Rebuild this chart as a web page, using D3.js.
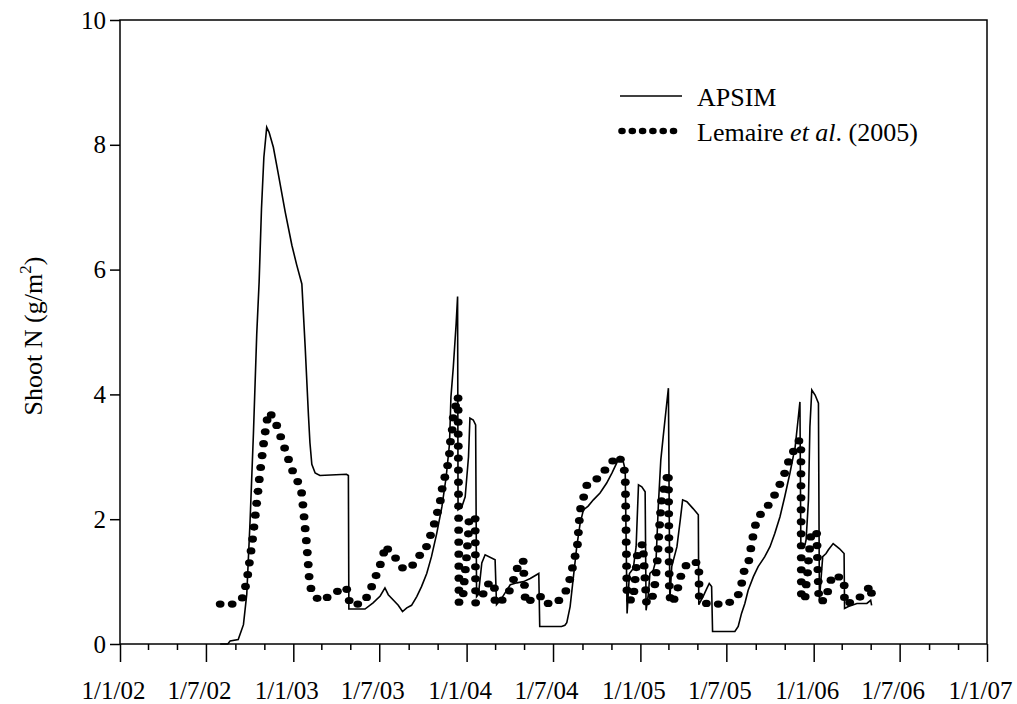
<!DOCTYPE html>
<html>
<head>
<meta charset="utf-8">
<script src="https://cdn.jsdelivr.net/npm/d3@7"></script>
<style>
  body { margin: 0; background: #fff; }
  svg { display: block; }
  text { font-family: "Liberation Serif", "Times New Roman", serif; fill: #000; }
</style>
</head>
<body>
<svg id="chart" width="1017" height="704"></svg>
<script>
// Simulated shoot N (APSIM)
const apsimDates = [
  "2002-07-31","2002-08-16","2002-08-21","2002-09-07","2002-09-18","2002-09-25","2002-10-02","2002-10-09",
  "2002-10-16","2002-10-21","2002-10-26","2002-10-31","2002-11-02","2002-11-06","2002-11-11","2002-11-20",
  "2002-11-30","2002-12-15","2002-12-29","2003-01-08","2003-01-19","2003-01-26","2003-02-02","2003-02-05",
  "2003-02-09","2003-02-16","2003-02-26","2003-04-23","2003-04-27","2003-04-28","2003-06-01","2003-06-18",
  "2003-07-03","2003-07-13","2003-07-20","2003-07-31","2003-08-10","2003-08-19","2003-08-28","2003-09-07",
  "2003-09-18","2003-09-28","2003-10-09","2003-10-19","2003-10-30","2003-11-10","2003-11-19","2003-11-26",
  "2003-11-29","2003-12-04","2003-12-10","2003-12-13","2003-12-14","2003-12-22","2003-12-29","2004-01-05",
  "2004-01-08","2004-01-15","2004-01-20","2004-01-22","2004-01-26","2004-02-02","2004-02-09","2004-03-01",
  "2004-03-04","2004-03-12","2004-03-22","2004-04-02","2004-04-16","2004-04-30","2004-05-14","2004-06-01",
  "2004-06-03","2004-07-19","2004-07-26","2004-07-30","2004-08-06","2004-08-13","2004-08-20","2004-08-27",
  "2004-09-03","2004-09-13","2004-09-24","2004-10-08","2004-10-22","2004-11-02","2004-11-12","2004-11-19",
  "2004-11-26","2004-11-30","2004-12-04","2004-12-09","2004-12-17","2004-12-23","2004-12-28","2005-01-04",
  "2005-01-11","2005-01-13","2005-01-18","2005-01-21","2005-01-28","2005-02-03","2005-02-08","2005-02-13",
  "2005-02-18","2005-02-24","2005-03-01","2005-03-04","2005-03-08","2005-03-19","2005-03-26","2005-03-31",
  "2005-04-09","2005-04-22","2005-05-03","2005-05-04","2005-05-13","2005-05-21","2005-05-26","2005-05-31",
  "2005-06-02","2005-07-19","2005-07-26","2005-08-02","2005-08-09","2005-08-16","2005-08-27","2005-09-06",
  "2005-09-20","2005-10-01","2005-10-11","2005-10-22","2005-11-01","2005-11-12","2005-11-23","2005-11-29",
  "2005-12-03","2005-12-05","2005-12-14","2005-12-16","2005-12-21","2005-12-24","2005-12-28","2006-01-04",
  "2006-01-11","2006-01-13","2006-01-20","2006-01-27","2006-02-01","2006-02-11","2006-02-24","2006-03-06",
  "2006-03-07","2006-03-15","2006-04-02","2006-04-23","2006-05-01","2006-05-03"
];
const apsimShootN = [
  0, 0, 0.05, 0.07, 0.31, 0.8, 1.98, 3.37,
  4.97, 5.8, 6.98, 7.8, 7.96, 8.28, 8.2, 7.96,
  7.55, 6.92, 6.39, 6.08, 5.77, 4.76, 3.65, 3.23,
  2.88, 2.74, 2.70, 2.72, 2.70, 0.56, 0.56, 0.66,
  0.77, 0.9, 0.79, 0.7, 0.62, 0.52, 0.58, 0.62,
  0.76, 0.92, 1.13, 1.4, 1.77, 2.2, 2.68, 3.21,
  3.96, 4.44, 5.14, 5.57, 2.15, 2.2, 2.36, 3.0,
  3.62, 3.59, 3.51, 0.76, 0.8, 1.3, 1.43, 1.35,
  0.63, 0.7, 0.82, 0.95, 0.98, 1.0, 1.05, 1.13,
  0.28, 0.28, 0.3, 0.34, 0.6, 1.08, 1.56, 1.93,
  2.15, 2.21, 2.31, 2.42, 2.58, 2.74, 2.9, 3.0,
  2.92, 2.79, 0.49, 1.13, 1.21, 1.56, 2.55, 2.52,
  2.44, 0.54, 0.81, 1.13, 1.18, 1.35, 2.25, 2.95,
  3.32, 3.75, 4.1, 0.7, 1.24, 1.56, 1.99, 2.31,
  2.28, 2.17, 2.07, 0.63, 0.76, 0.89, 0.97, 0.92,
  0.2, 0.2, 0.28, 0.49, 0.65, 0.86, 1.08, 1.24,
  1.4, 1.56, 1.77, 2.04, 2.36, 2.74, 3.16, 3.59,
  3.88, 1.56, 1.6, 1.67, 2.31, 3.48, 4.07, 3.99,
  3.86, 0.7, 1.4, 1.45, 1.51, 1.61, 1.53, 1.45,
  0.57, 0.6, 0.65, 0.65, 0.7, 0.62
];

// Shoot N after Lemaire et al. (2005)
const lemaireDates = [
  "2002-07-31","2002-08-28","2002-09-16","2002-09-25","2002-10-06","2002-10-15","2002-10-23","2002-11-01",
  "2002-11-07","2002-11-11","2002-11-23","2002-12-11","2002-12-29","2003-01-10","2003-01-19","2003-01-24",
  "2003-01-29","2003-02-02","2003-02-04","2003-02-09","2003-02-25","2003-03-23","2003-04-18","2003-04-28",
  "2003-04-29","2003-05-24","2003-06-10","2003-06-18","2003-06-30","2003-07-07","2003-07-15","2003-07-20",
  "2003-07-31","2003-08-10","2003-08-21","2003-09-07","2003-09-25","2003-10-04","2003-10-14","2003-10-23",
  "2003-10-30","2003-11-06","2003-11-10","2003-11-16","2003-11-22","2003-11-26","2003-11-28","2003-12-02",
  "2003-12-04","2003-12-10","2003-12-14","2003-12-16","2003-12-25","2003-12-27","2004-01-01","2004-01-05",
  "2004-01-06","2004-01-19","2004-01-20","2004-02-03","2004-02-11","2004-02-28","2004-03-01","2004-03-08",
  "2004-03-27","2004-04-07","2004-04-12","2004-04-29","2004-05-04","2004-05-28","2004-06-04","2004-06-11",
  "2004-07-07","2004-07-25","2004-08-04","2004-08-15","2004-08-21","2004-08-23","2004-08-27","2004-09-10",
  "2004-10-06","2004-10-25","2004-11-14","2004-11-25","2004-11-30","2004-12-04","2004-12-16","2004-12-19",
  "2004-12-24","2004-12-26","2005-01-06","2005-01-14","2005-01-28","2005-02-01","2005-02-06","2005-02-09",
  "2005-02-13","2005-02-15","2005-02-22","2005-03-01","2005-03-03","2005-03-08","2005-03-18","2005-03-24",
  "2005-03-31","2005-04-14","2005-05-04","2005-05-05","2005-05-23","2005-07-03","2005-07-25","2005-08-02",
  "2005-08-07","2005-08-16","2005-08-20","2005-08-25","2005-08-29","2005-09-08","2005-09-29","2005-10-14",
  "2005-10-26","2005-11-06","2005-11-12","2005-11-23","2005-11-30","2005-12-05","2005-12-06","2005-12-14",
  "2005-12-16","2005-12-19","2005-12-21","2005-12-26","2006-01-07","2006-01-12","2006-01-28","2006-02-01",
  "2006-02-11","2006-03-06","2006-03-07","2006-04-02","2006-04-21","2006-05-02","2006-05-03"
];
const lemaireShootN = [
  0.64, 0.64, 0.74, 1.0, 1.6, 2.2, 2.75, 3.31,
  3.6, 3.72, 3.59, 3.2, 2.8, 2.61, 2.41, 2.01,
  1.61, 1.22, 1.0, 0.83, 0.69, 0.78, 0.92, 0.84,
  0.64, 0.64, 0.8, 0.99, 1.19, 1.37, 1.58, 1.5,
  1.43, 1.31, 1.2, 1.24, 1.43, 1.46, 1.68, 1.87,
  2.07, 2.26, 2.47, 2.67, 2.86, 3.06, 3.25, 3.45,
  3.65, 3.85, 3.97, 0.65, 0.81, 1.0, 1.4, 1.79,
  1.99, 2.05, 0.66, 0.76, 0.95, 0.99, 0.65, 0.64,
  0.79, 0.96, 1.16, 1.35, 0.65, 0.77, 0.77, 0.65,
  0.65, 0.79, 0.99, 1.36, 1.55, 1.75, 2.14, 2.54,
  2.67, 2.85, 3.02, 2.91, 2.71, 0.73, 0.69, 0.88,
  1.28, 1.47, 1.61, 0.64, 0.78, 0.98, 1.37, 1.76,
  2.16, 2.35, 2.55, 2.76, 0.79, 0.64, 0.8, 1.0,
  1.19, 1.32, 1.3, 0.7, 0.64, 0.64, 0.76, 0.96,
  1.16, 1.27, 1.46, 1.67, 1.86, 2.05, 2.24, 2.43,
  2.63, 2.83, 3.02, 3.12, 3.25, 3.27, 0.7, 0.75,
  0.94, 1.13, 1.33, 1.73, 1.82, 0.68, 0.71, 0.92,
  1.11, 1.04, 0.64, 0.7, 0.85, 0.94, 0.74
];

const yTicks = [0, 2, 4, 6, 8, 10];
const xDomain = ["2002-01-01", "2007-01-01"];
const seriesNames = ["APSIM", "Lemaire"];

(function draw() {
  const parse = d3.timeParse("%Y-%m-%d");
  const apsim = apsimDates.map((d, i) => ({ date: parse(d), v: apsimShootN[i] }));
  const lemaire = lemaireDates.map((d, i) => ({ date: parse(d), v: lemaireShootN[i] }));

  const svg = d3.select("#chart");
  const m = { left: 120, right: 987, top: 20, bottom: 644 };
  const serif = "'Liberation Serif', 'Times New Roman', serif";
  const dotRx = 4.4, dotRy = 3.6;

  const x = d3.scaleTime().domain(xDomain.map(parse)).range([m.left, m.right]);
  const y = d3.scaleLinear().domain([0, 10]).range([m.bottom, m.top]);

  // Frame
  svg.append("rect")
    .attr("x", m.left).attr("y", m.top)
    .attr("width", m.right - m.left).attr("height", m.bottom - m.top)
    .attr("fill", "none").attr("stroke", "#000").attr("stroke-width", 1.5);

  // X axis: labelled ticks every six months, short ticks every two months
  const fmt = d3.timeFormat("%-d/%-m/%y");
  const majorTicks = d3.timeMonth.every(6).range(x.domain()[0], d3.timeDay.offset(x.domain()[1], 1));
  const minorTicks = d3.timeMonth.every(2).range(x.domain()[0], x.domain()[1])
    .filter(d => d.getMonth() % 6 !== 0);

  const xMinor = svg.append("g").attr("transform", `translate(0,${m.bottom})`)
    .call(d3.axisBottom(x).tickValues(minorTicks).tickSize(6).tickFormat(""));
  xMinor.select(".domain").remove();
  xMinor.selectAll("line").attr("stroke-width", 1.5);

  const xMajor = svg.append("g").attr("transform", `translate(0,${m.bottom})`)
    .call(d3.axisBottom(x).tickValues(majorTicks).tickSize(18).tickPadding(19).tickFormat(fmt));
  xMajor.select(".domain").remove();
  xMajor.selectAll("line").attr("stroke-width", 1.5);
  xMajor.selectAll("text")
    .attr("x", -7)
    .attr("font-family", serif).attr("font-size", 25).attr("fill", "#000");

  // Y axis
  const yAxis = svg.append("g").attr("transform", `translate(${m.left},0)`)
    .call(d3.axisLeft(y).tickValues(yTicks).tickSize(10).tickPadding(4).tickFormat(d3.format("d")));
  yAxis.select(".domain").remove();
  yAxis.selectAll("line").attr("stroke-width", 1.5);
  yAxis.selectAll("text")
    .attr("font-family", serif).attr("font-size", 25).attr("fill", "#000");

  // Y axis title
  const yTitle = svg.append("text")
    .attr("transform", "translate(42,336) rotate(-90)")
    .attr("text-anchor", "middle")
    .attr("font-size", 26);
  yTitle.append("tspan").text("Shoot N (g/m");
  yTitle.append("tspan").attr("font-size", 17).attr("dy", -11).text("2");
  yTitle.append("tspan").attr("dy", 11).text(")");

  const line = d3.line().x(d => x(d.date)).y(d => y(d.v));

  // Lemaire et al. (2005): dots placed at even spacing along the trace
  const trace = svg.append("path")
    .datum(lemaire)
    .attr("d", line)
    .attr("fill", "none")
    .attr("stroke", "none");
  const node = trace.node();
  const total = node.getTotalLength();
  const step = 12;
  const dots = d3.range(0, total + 0.01, step).map(s => node.getPointAtLength(s));
  svg.append("g").selectAll("ellipse")
    .data(dots)
    .join("ellipse")
    .attr("cx", p => p.x).attr("cy", p => p.y)
    .attr("rx", dotRx).attr("ry", dotRy)
    .attr("fill", "#000");

  // APSIM: solid line
  svg.append("path")
    .datum(apsim)
    .attr("d", line)
    .attr("fill", "none")
    .attr("stroke", "#000")
    .attr("stroke-width", 1.6);

  // Legend
  const legend = svg.append("g");
  legend.append("line")
    .attr("x1", 620).attr("x2", 682).attr("y1", 96).attr("y2", 96)
    .attr("stroke", "#000").attr("stroke-width", 1.6);
  legend.append("text").attr("x", 697).attr("y", 106).attr("font-size", 26).text(seriesNames[0]);

  legend.selectAll("ellipse")
    .data(d3.range(6))
    .join("ellipse")
    .attr("cx", i => 622 + i * 10.3).attr("cy", 131)
    .attr("rx", dotRx - 0.6).attr("ry", dotRy - 0.4)
    .attr("fill", "#000");
  const lt = legend.append("text").attr("x", 697).attr("y", 141).attr("font-size", 26);
  lt.append("tspan").text("Lemaire ");
  lt.append("tspan").attr("font-style", "italic").text("et al");
  lt.append("tspan").text(". (2005)");
})();
</script>
</body>
</html>
